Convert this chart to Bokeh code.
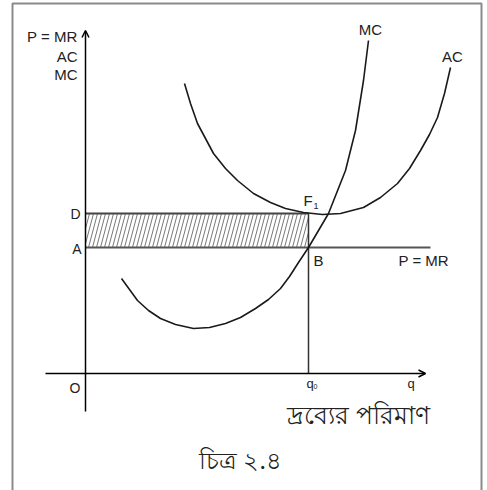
import numpy as np
from bokeh.plotting import figure
from bokeh.models import Range1d, Arrow, OpenHead
from bokeh.core.properties import value
from bokeh.embed import file_html
from bokeh.resources import INLINE

# ---- data (economic units: quantity q, price/cost c) ----
ac_q = [99, 105, 112, 128, 140, 152, 168, 185, 200, 218, 237, 255, 278, 295, 312, 324, 335, 344, 352, 359, 365]
ac_c = [290, 270, 250, 220, 205, 193, 180, 171, 165, 161, 159, 160, 166, 176, 190, 205, 223, 239, 256, 280, 306]

mc_q = [36, 44, 52, 63, 75, 90, 108, 124, 140, 155, 170, 183, 195, 204, 213, 223, 233, 243, 260, 270, 278, 283]
mc_c = [95, 84, 73, 63, 55, 49, 45, 46, 50, 56, 65, 74, 85, 97, 111, 126, 143, 160, 203, 243, 293, 333]

q0 = 223          # output level
price_A = 126     # P = MR
price_D = 160     # AC at q0
mr_end = 345
x_axis_span = [-40, 340]
y_axis_span = [-38, 343]

FONT = value("Liberation Sans")

W, H = 487, 490
p = figure(width=W, height=H, output_backend="svg", toolbar_location=None,
           x_range=Range1d(-85, 402), y_range=Range1d(-117, 373),
           x_axis_type=None, y_axis_type=None, min_border=0)
p.grid.visible = False
p.outline_line_color = None
p.background_fill_color = "white"
p.border_fill_color = "white"

# frame (left, top, right)
xl, xr = p.x_range.start + 12, p.x_range.end - 6
yt = p.y_range.end - 3
yb = p.y_range.start - 5
p.line([xl, xl, xr, xr], [yb, yt, yt, yb], line_color="#8a8a8a", line_width=2)

# hatched rectangle (profit area)
sx, sy, ex, ey = [], [], [], []
off = 9
for b in np.arange(-off, q0, 4.0):
    x_s, y_s = b, price_A
    x_e, y_e = b + off, price_D
    if x_s < 0:
        y_s = price_A + (0 - b) / off * (price_D - price_A)
        x_s = 0
    if x_e > q0:
        y_e = price_A + (q0 - b) / off * (price_D - price_A)
        x_e = q0
    sx.append(x_s); sy.append(y_s); ex.append(x_e); ey.append(y_e)
p.segment(x0=sx, y0=sy, x1=ex, y1=ey, line_color="#555555", line_width=0.8)

# D and A lines, P = MR line
p.line([0, q0], [price_D, price_D], line_color="#444444", line_width=2)
p.line([0, mr_end], [price_A, price_A], line_color="#555555", line_width=2)
# q0 vertical
p.line([q0, q0], [0, price_D], line_color="#333333", line_width=1.5)

# curves
p.line(ac_q, ac_c, line_color="#1a1a1a", line_width=1.6)
p.line(mc_q, mc_c, line_color="#1a1a1a", line_width=1.6)

# axes with arrows
p.add_layout(Arrow(end=OpenHead(size=7, line_width=1.5, line_color="black"),
                   x_start=x_axis_span[0], y_start=0, x_end=x_axis_span[1], y_end=0,
                   line_width=1.5, line_color="black"))
p.add_layout(Arrow(end=OpenHead(size=7, line_width=1.5, line_color="black"),
                   x_start=0, y_start=y_axis_span[0], x_end=0, y_end=y_axis_span[1],
                   line_width=1.5, line_color="black"))

# labels
common = dict(text_font=FONT, text_color="#222222", text_baseline="middle")
p.text(x=[-8, -8, -8], y=[337, 317, 299], text=["P = MR", "AC", "MC"],
       text_align="right", text_font_size="15px", **common)
p.text(x=[-5, -4, -5], y=[160, 125, -14], text=["D", "A", "O"],
       text_align="right", text_font_size="14px", **common)
p.text(x=[285, 367], y=[344, 317], text=["MC", "AC"], text_align="center",
       text_font_size="15px", **common)
p.text(x=[218, 228, 313], y=[173, 113, 113], text=["F", "B", "P = MR"],
       text_align="left", text_font_size="15px", **common)
p.text(x=[228], y=[168], text=["1"], text_align="left", text_font_size="9px", **common)
p.text(x=[221, 322], y=[-10, -10], text=["q", "q"], text_align="left",
       text_font_size="13px", **common)
p.text(x=[228], y=[-13], text=["0"], text_align="left", text_font_size="7px", **common)
p.text(x=[273], y=[-40], text=["দ্রব্যের পরিমাণ"], text_align="center",
       text_font_size="25px", text_font=value("Noto Sans"), text_color="#222222",
       text_baseline="middle")
p.text(x=[155], y=[-86], text=["চিত্র ২.৪"], text_align="center",
       text_font_size="24px", text_font=value("Noto Sans"), text_color="#222222",
       text_baseline="middle")

open("out.html", "w").write(file_html(p, INLINE))
